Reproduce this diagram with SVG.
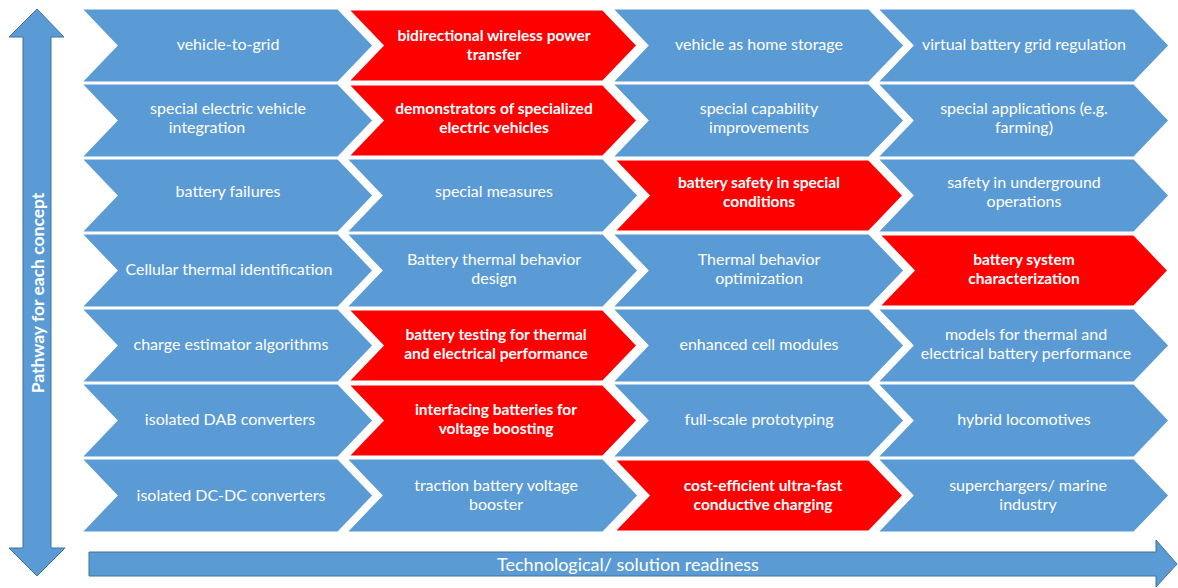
<svg xmlns="http://www.w3.org/2000/svg" width="1178" height="588" viewBox="0 0 1178 588">
<style>
.b{fill:#5B9BD5;stroke:#fff;stroke-width:1.2}
.r{fill:#FF0000;stroke:#fff;stroke-width:3}
.t{font-family:Lato,"Liberation Sans",sans-serif;font-size:16px;fill:#fff;text-anchor:middle}
.tb{font-family:Lato,"Liberation Sans",sans-serif;font-size:15.5px;font-weight:bold;fill:#fff;text-anchor:middle}
.ar{fill:#5B9BD5;stroke:#41719C;stroke-width:1}
</style>
<defs>
<polygon id="chev" points="0,0 256,0 291,36.5 256,73 0,73 35,36.5"/>
</defs>
<g id="connectors">
<polygon class="ar" points="37,9 64,37 51,37 51,548 65,548 37,576 9,548 23,548 23,37 9,37"/>
<polygon class="ar" points="89,552 1156,552 1156,540 1177,564 1156,587 1156,576 89,576"/>
</g>
<g id="axis-labels">
<text x="0" y="0" transform="translate(43.5,293) rotate(-90)" font-family="Lato,'Liberation Sans',sans-serif" font-size="17.5" font-weight="bold" fill="#fff" text-anchor="middle">Pathway for each concept</text>
<text x="628" y="571" font-family="Lato,'Liberation Sans',sans-serif" font-size="18" fill="#fff" text-anchor="middle">Technological/ solution readiness</text>
</g>
<!-- Row 1 -->
<g id="r1c1"><use href="#chev" class="b" x="82" y="9"/><text class="t" x="228" y="50">vehicle-to-grid</text></g>
<g id="r1c2"><use href="#chev" class="r" x="347" y="9"/><text class="tb" x="494" y="41">bidirectional wireless power</text><text class="tb" x="494" y="60">transfer</text></g>
<g id="r1c3"><use href="#chev" class="b" x="613" y="9"/><text class="t" x="759" y="50">vehicle as home storage</text></g>
<g id="r1c4"><use href="#chev" class="b" x="878" y="9"/><text class="t" x="1024" y="50">virtual battery grid regulation</text></g>
<!-- Row 2 -->
<g id="r2c1"><use href="#chev" class="b" x="82" y="84"/><text class="t" x="228" y="114">special electric vehicle</text><text class="t" x="207" y="133">integration</text></g>
<g id="r2c2"><use href="#chev" class="r" x="347" y="84"/><text class="tb" x="494" y="114">demonstrators of specialized</text><text class="tb" x="494" y="133">electric vehicles</text></g>
<g id="r2c3"><use href="#chev" class="b" x="613" y="84"/><text class="t" x="759" y="114">special capability</text><text class="t" x="759" y="133">improvements</text></g>
<g id="r2c4"><use href="#chev" class="b" x="878" y="84"/><text class="t" x="1024" y="114">special applications (e.g.</text><text class="t" x="1024" y="133">farming)</text></g>
<!-- Row 3 -->
<g id="r3c1"><use href="#chev" class="b" x="82" y="159"/><text class="t" x="228" y="197">battery failures</text></g>
<g id="r3c2"><use href="#chev" class="b" x="347" y="159"/><text class="t" x="494" y="197">special measures</text></g>
<g id="r3c3"><use href="#chev" class="r" x="613" y="159"/><text class="tb" x="759" y="188">battery safety in special</text><text class="tb" x="759" y="207">conditions</text></g>
<g id="r3c4"><use href="#chev" class="b" x="878" y="159"/><text class="t" x="1024" y="188">safety in underground</text><text class="t" x="1024" y="207">operations</text></g>
<!-- Row 4 -->
<g id="r4c1"><use href="#chev" class="b" x="82" y="234"/><text class="t" x="229" y="275">Cellular thermal identification</text></g>
<g id="r4c2"><use href="#chev" class="b" x="347" y="234"/><text class="t" x="494" y="265">Battery thermal behavior</text><text class="t" x="494" y="284">design</text></g>
<g id="r4c3"><use href="#chev" class="b" x="613" y="234"/><text class="t" x="759" y="265">Thermal behavior</text><text class="t" x="759" y="284">optimization</text></g>
<g id="r4c4"><use href="#chev" class="r" x="878" y="234"/><text class="tb" x="1024" y="265">battery system</text><text class="tb" x="1024" y="284">characterization</text></g>
<!-- Row 5 -->
<g id="r5c1"><use href="#chev" class="b" x="82" y="309"/><text class="t" x="231" y="350">charge estimator algorithms</text></g>
<g id="r5c2"><use href="#chev" class="r" x="347" y="309"/><text class="tb" x="496" y="340">battery testing for thermal</text><text class="tb" x="496" y="359">and electrical performance</text></g>
<g id="r5c3"><use href="#chev" class="b" x="613" y="309"/><text class="t" x="759" y="350">enhanced cell modules</text></g>
<g id="r5c4"><use href="#chev" class="b" x="878" y="309"/><text class="t" x="1026" y="340">models for thermal and</text><text class="t" x="1026" y="359">electrical battery performance</text></g>
<!-- Row 6 -->
<g id="r6c1"><use href="#chev" class="b" x="82" y="384"/><text class="t" x="230" y="425">isolated DAB converters</text></g>
<g id="r6c2"><use href="#chev" class="r" x="347" y="384"/><text class="tb" x="496" y="415">interfacing batteries for</text><text class="tb" x="496" y="434">voltage boosting</text></g>
<g id="r6c3"><use href="#chev" class="b" x="613" y="384"/><text class="t" x="759" y="425">full-scale prototyping</text></g>
<g id="r6c4"><use href="#chev" class="b" x="878" y="384"/><text class="t" x="1024" y="425">hybrid locomotives</text></g>
<!-- Row 7 -->
<g id="r7c1"><use href="#chev" class="b" x="82" y="459"/><text class="t" x="231" y="501">isolated DC-DC converters</text></g>
<g id="r7c2"><use href="#chev" class="b" x="347" y="459"/><text class="t" x="496" y="491">traction battery voltage</text><text class="t" x="496" y="510">booster</text></g>
<g id="r7c3"><use href="#chev" class="r" x="613" y="459"/><text class="tb" x="763" y="491">cost-efficient ultra-fast</text><text class="tb" x="763" y="510">conductive charging</text></g>
<g id="r7c4"><use href="#chev" class="b" x="878" y="459"/><text class="t" x="1028" y="491">superchargers/ marine</text><text class="t" x="1028" y="510">industry</text></g>
</svg>
